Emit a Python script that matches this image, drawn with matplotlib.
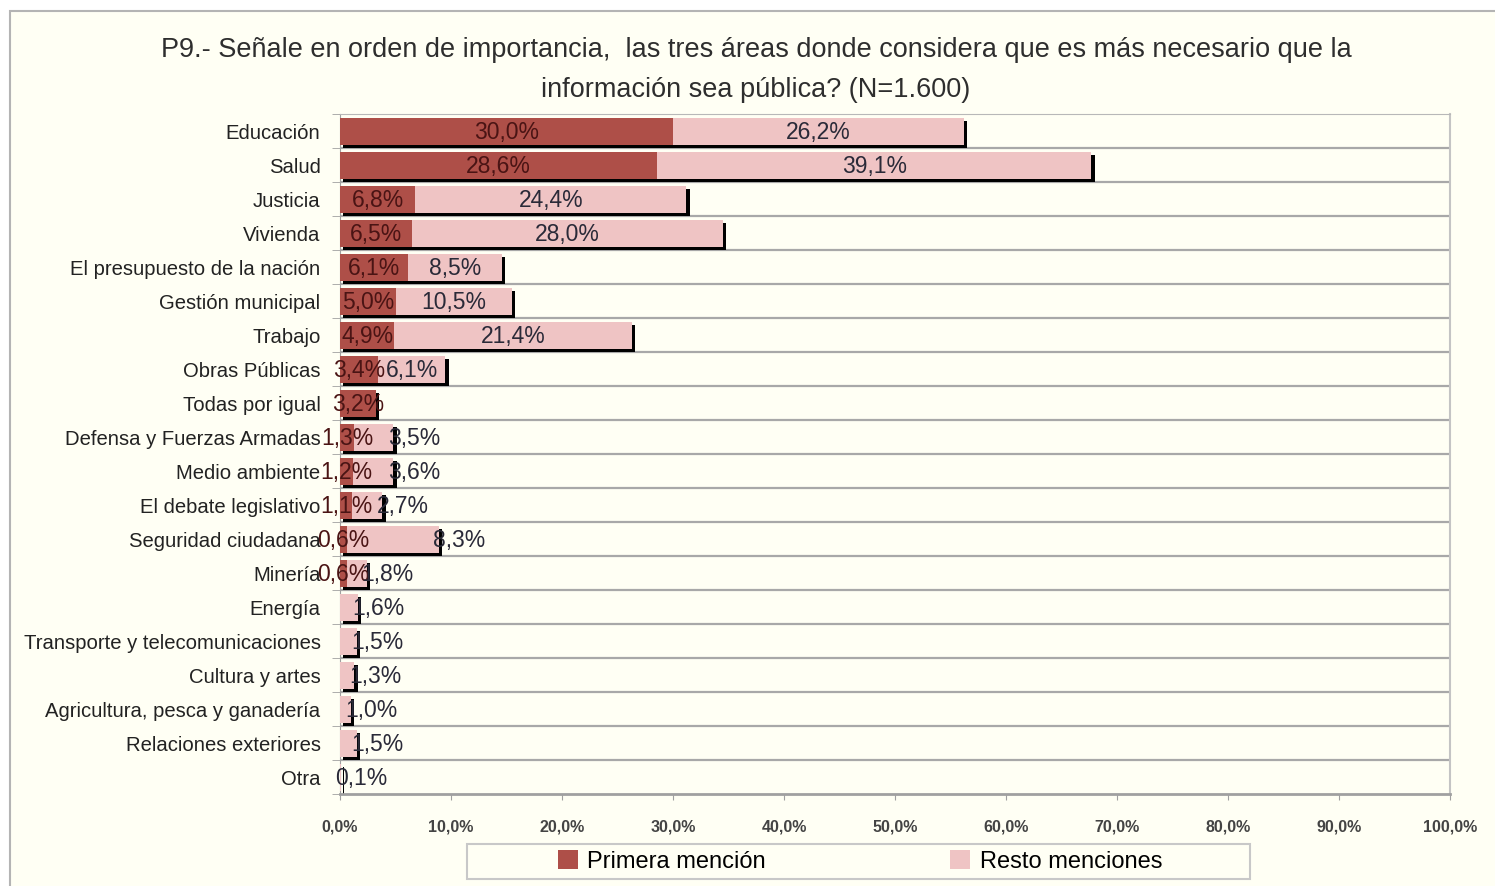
import numpy as np
import matplotlib.pyplot as plt
from matplotlib.patches import Rectangle

plt.rcParams['font.family'] = ['Liberation Sans', 'DejaVu Sans']

# %% data

categories = [
    "Educación",
    "Salud",
    "Justicia",
    "Vivienda",
    "El presupuesto de la nación",
    "Gestión municipal",
    "Trabajo",
    "Obras Públicas",
    "Todas por igual",
    "Defensa y Fuerzas Armadas",
    "Medio ambiente",
    "El debate legislativo",
    "Seguridad ciudadana",
    "Minería",
    "Energía",
    "Transporte y telecomunicaciones",
    "Cultura y artes",
    "Agricultura, pesca y ganadería",
    "Relaciones exteriores",
    "Otra",
]
primera = [30.0, 28.6, 6.8, 6.5, 6.1, 5.0, 4.9, 3.4, 3.2, 1.3, 1.2, 1.1, 0.6, 0.6,
           0.0, 0.0, 0.0, 0.0, 0.0, 0.0]
resto = [26.2, 39.1, 24.4, 28.0, 8.5, 10.5, 21.4, 6.1, 0.0, 3.5, 3.6, 2.7, 8.3, 1.8,
         1.6, 1.5, 1.3, 1.0, 1.5, 0.1]
x_ticks = list(range(0, 101, 10))

series_names = ["Primera mención", "Resto menciones"]


def pct(v, dec=1):
    return f"{v:.{dec}f}%".replace(".", ",")


# %% figure

W, H = 1495, 887
fig = plt.figure(figsize=(W / 100, H / 100), dpi=100)
fig.patch.set_facecolor("white")
bg = "#FFFFF4"
fig.patches.append(Rectangle((10 / W, -0.02), 1.0, 1 - 12 / H + 0.02,
                             transform=fig.transFigure, facecolor=bg,
                             edgecolor="#b4b4b4", lw=1.5, zorder=-10))

ax = fig.add_axes([340 / W, 1 - 795 / H, 1110 / W, 680 / H])
ax.set_facecolor(bg)

n = len(categories)
y = np.arange(n)
prim = np.array(primera)
rest = np.array(resto)
total = prim + rest

dark = "#AE4F48"
pink = "#EFC4C4"
bh = 0.79
yc = y + 0.015

# shadow on the right / bottom of each bar
ax.barh(yc + 0.09, total, left=0.3, height=bh, color="black", zorder=2)
b1 = ax.barh(yc, prim, height=bh, color=dark, zorder=3, label=series_names[0])
b2 = ax.barh(yc, rest, left=prim, height=bh, color=pink, zorder=3, label=series_names[1])

for i in range(n):
    p, r = prim[i], rest[i]
    if p > 0:
        ax.text(p / 2, yc[i], pct(p), ha="center", va="center", fontsize=16.5,
                color="#4a1414", zorder=5)
    if r > 0:
        if r < 5 or p < 1:
            ax.text(p + r - 0.5, yc[i], pct(r), ha="left", va="center", fontsize=16.5,
                    color="#2a2a38", zorder=5)
        else:
            ax.text(p + r / 2, yc[i], pct(r), ha="center", va="center", fontsize=16.5,
                    color="#2a2a38", zorder=5)

# row separators
for k in range(n - 1):
    ax.axhline(k + 0.5, color="#a8a8a8", lw=1.6, zorder=1)

ax.set_xlim(0, 100)
ax.set_ylim(n - 0.5, -0.5)

ax.set_yticks(y)
ax.set_yticklabels(categories, fontsize=14.6, color="#222222")
ax.tick_params(axis="y", which="major", length=0, pad=14)
ax.set_yticks(np.arange(-0.5, n, 1), minor=True)
ax.tick_params(axis="y", which="minor", length=6, color="#a0a0a0")

ax.set_xticks(x_ticks)
ax.set_xticklabels([pct(t) for t in x_ticks], fontsize=11.5, fontweight="bold",
                   color="#444444")
ax.tick_params(axis="x", length=4, color="#a0a0a0", pad=14)

ax.spines["top"].set_color("#b8b8b8")
ax.spines["right"].set_color("#c4c4c4")
ax.spines["left"].set_color("#a0a0a0")
ax.spines["bottom"].set_color("#a0a0a0")
ax.spines["bottom"].set_linewidth(2)
ax.spines["right"].set_linewidth(1.5)

fig.text(756 / W, 1 - 50 / H,
         "P9.- Señale en orden de importancia,  las tres áreas donde considera que es más necesario que la",
         ha="center", va="center", fontsize=19.5, color="#2e2e2e")
fig.text(756 / W, 1 - 90 / H, "información sea pública? (N=1.600)",
         ha="center", va="center", fontsize=19.5, color="#2e2e2e")

# legend box drawn separately so it can be wider than its entries
fig.patches.append(Rectangle((467 / W, 1 - 880 / H), 783 / W, 35 / H,
                             transform=fig.transFigure, facecolor=bg,
                             edgecolor="#c8c8c8", lw=1.5, zorder=1))
leg = fig.legend(handles=[b1, b2], loc="center", bbox_to_anchor=(860 / W, 1 - 862 / H),
                 ncol=2, frameon=False, fontsize=17, columnspacing=7.8,
                 handlelength=0.85, handleheight=0.85, handletextpad=0.4,
                 borderpad=0.2, borderaxespad=0)
leg.set_zorder(5)

fig.savefig("out.png", dpi=100, facecolor=fig.get_facecolor())
